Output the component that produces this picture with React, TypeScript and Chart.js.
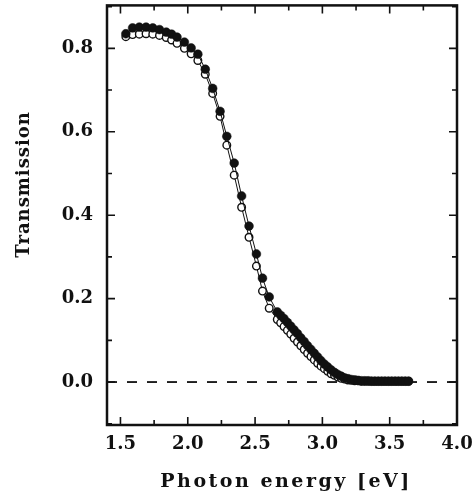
import React, { useEffect, useRef } from "react";
import { Chart, registerables } from "chart.js";

Chart.register(...registerables);

// Photon energy [eV]
const energy = [
  1.54, 1.59, 1.64, 1.69, 1.74, 1.79, 1.84, 1.88, 1.92, 1.975, 2.025, 2.075,
  2.13, 2.185, 2.24, 2.29, 2.345, 2.4, 2.455, 2.51, 2.555, 2.605, 2.665,
  2.69, 2.715, 2.74, 2.765, 2.79, 2.815, 2.84, 2.865, 2.89, 2.915, 2.94, 2.965,
  2.99, 3.015, 3.04, 3.065, 3.09, 3.115, 3.14, 3.165, 3.19, 3.215, 3.24, 3.265,
  3.29, 3.315, 3.34, 3.365, 3.39, 3.415, 3.44, 3.465, 3.49, 3.515, 3.54, 3.565,
  3.59, 3.615, 3.64,
];

// Filled circles
const transmissionFilled = [
  0.835, 0.849, 0.851, 0.851, 0.849, 0.845, 0.839, 0.834, 0.827, 0.815, 0.801, 0.786,
  0.75, 0.704, 0.649, 0.589, 0.525, 0.446, 0.374, 0.307, 0.249, 0.204, 0.168,
  0.16, 0.152, 0.143, 0.134, 0.125, 0.116, 0.106, 0.097, 0.087, 0.078, 0.069, 0.06,
  0.051, 0.043, 0.036, 0.029, 0.023, 0.018, 0.014, 0.01, 0.008, 0.006, 0.005, 0.004,
  0.003, 0.003, 0.003, 0.002, 0.002, 0.002, 0.002, 0.002, 0.002, 0.002, 0.002, 0.002,
  0.002, 0.002, 0.002,
];

// Open circles
const transmissionOpen = [
  0.828, 0.833, 0.834, 0.835, 0.834, 0.831, 0.826, 0.82, 0.812, 0.8, 0.787, 0.771,
  0.738, 0.692, 0.637, 0.568, 0.496, 0.419, 0.347, 0.278, 0.218, 0.177, 0.15,
  0.142, 0.133, 0.124, 0.115, 0.105, 0.096, 0.087, 0.078, 0.069, 0.061, 0.053, 0.045,
  0.038, 0.032, 0.026, 0.02, 0.016, 0.012, 0.009, 0.007, 0.005, 0.004, 0.003, 0.003,
  0.002, 0.002, 0.002, 0.002, 0.002, 0.002, 0.002, 0.002, 0.002, 0.002, 0.002, 0.002,
  0.002, 0.002, 0.002,
];

// Dashed zero line
const baselineX = [1.4, 4.0];
const baselineY = [0, 0];

const xMajorTicks = [1.5, 2.0, 2.5, 3.0, 3.5, 4.0];
const xMinorTicks = [1.75, 2.25, 2.75, 3.25, 3.75];
const yMajorTicks = [0.0, 0.2, 0.4, 0.6, 0.8];
const yMinorTicks = [-0.1, 0.1, 0.3, 0.5, 0.7, 0.9];

const xTitle = "Photon energy [eV]";
const yTitle = "Transmission";

const FONT_FAMILY = "'DejaVu Serif', 'Liberation Serif', serif";
const INK = "#111";

const isIn = (arr: number[], v: number) => arr.some((a) => Math.abs(a - v) < 1e-6);

const framePlugin = {
  id: "frameTicksTitles",
  afterDraw(chart: any) {
    const { ctx, chartArea } = chart;
    const { left, right, top, bottom } = chartArea;
    ctx.save();
    ctx.strokeStyle = INK;
    ctx.lineCap = "butt";
    // inward ticks on all four sides
    ctx.lineWidth = 1.6;
    const xs = chart.scales.x;
    const ys = chart.scales.y;
    xs.ticks.forEach((t: any) => {
      const p = xs.getPixelForValue(t.value);
      if (p < left + 1 || p > right - 1) return;
      const len = isIn(xMajorTicks, t.value) ? 8 : 5;
      ctx.beginPath();
      ctx.moveTo(p, bottom);
      ctx.lineTo(p, bottom - len);
      ctx.moveTo(p, top);
      ctx.lineTo(p, top + len);
      ctx.stroke();
    });
    ys.ticks.forEach((t: any) => {
      const p = ys.getPixelForValue(t.value);
      if (p < top + 1 || p > bottom - 1) return;
      const len = isIn(yMajorTicks, t.value) ? 8 : 5;
      ctx.beginPath();
      ctx.moveTo(left, p);
      ctx.lineTo(left + len, p);
      ctx.moveTo(right, p);
      ctx.lineTo(right - len, p);
      ctx.stroke();
    });
    // frame
    ctx.lineWidth = 2.5;
    ctx.strokeRect(left, top, right - left, bottom - top);
    // axis titles
    ctx.fillStyle = INK;
    ctx.textAlign = "center";
    ctx.textBaseline = "middle";
    ctx.font = `bold 19px ${FONT_FAMILY}`;
    (ctx as any).letterSpacing = "2.5px";
    ctx.fillText(xTitle, (left + right) / 2 + 4, bottom + 57);
    ctx.font = `bold 18px ${FONT_FAMILY}`;
    (ctx as any).letterSpacing = "1px";
    ctx.translate(left - 83, top + 179);
    ctx.rotate(-Math.PI / 2);
    ctx.fillText(yTitle, 0, 0);
    (ctx as any).letterSpacing = "0px";
    ctx.restore();
  },
};

export default function App() {
  const canvasRef = useRef<HTMLCanvasElement | null>(null);

  useEffect(() => {
    if (!canvasRef.current) return;
    const chart = new Chart(canvasRef.current, {
      type: "line",
      data: {
        datasets: [
          {
            label: "filled",
            data: energy.map((e, i) => ({ x: e, y: transmissionFilled[i] })),
            borderColor: INK,
            borderWidth: 1,
            pointRadius: 4.4,
            pointBackgroundColor: INK,
            pointBorderColor: INK,
            pointBorderWidth: 0.5,
            fill: false,
            tension: 0,
          },
          {
            label: "open",
            data: energy.map((e, i) => ({ x: e, y: transmissionOpen[i] })),
            borderColor: INK,
            borderWidth: 1,
            pointRadius: 3.8,
            pointBackgroundColor: "#fff",
            pointBorderColor: INK,
            pointBorderWidth: 1.4,
            fill: false,
            tension: 0,
          },
          {
            label: "zero",
            data: baselineX.map((x, i) => ({ x, y: baselineY[i] })),
            borderColor: INK,
            borderWidth: 1.8,
            borderDash: [10, 10],
            pointRadius: 0,
            fill: false,
          },
        ],
      },
      options: {
        responsive: false,
        animation: false,
        devicePixelRatio: 1,
        layout: { padding: { top: 5, right: 19, left: 0, bottom: 0 } },
        plugins: {
          legend: { display: false },
          tooltip: { enabled: false },
          title: { display: false },
        },
        scales: {
          x: {
            type: "linear",
            min: 1.4,
            max: 4.0,
            afterFit: (s: any) => {
              s.height = 72;
              s.paddingLeft = 0;
              s.paddingRight = 0;
            },
            afterBuildTicks: (s: any) => {
              s.ticks = [...xMajorTicks, ...xMinorTicks]
                .sort((a, b) => a - b)
                .map((v) => ({ value: v }));
            },
            grid: { display: false, drawTicks: false },
            border: { display: false },
            ticks: {
              autoSkip: false,
              maxRotation: 0,
              padding: 9,
              color: INK,
              font: { family: FONT_FAMILY, weight: "bold", size: 18 },
              callback: (v: any) => (isIn(xMajorTicks, Number(v)) ? Number(v).toFixed(1) : ""),
            },
          },
          y: {
            type: "linear",
            min: -0.103,
            max: 0.903,
            afterFit: (s: any) => {
              s.width = 107;
              s.paddingTop = 0;
              s.paddingBottom = 0;
            },
            afterBuildTicks: (s: any) => {
              s.ticks = [...yMajorTicks, ...yMinorTicks]
                .sort((a, b) => a - b)
                .map((v) => ({ value: v }));
            },
            grid: { display: false, drawTicks: false },
            border: { display: false },
            ticks: {
              autoSkip: false,
              padding: 14,
              color: INK,
              font: { family: FONT_FAMILY, weight: "bold", size: 18 },
              callback: (v: any) => (isIn(yMajorTicks, Number(v)) ? Number(v).toFixed(1) : ""),
            },
          },
        },
      },
      plugins: [framePlugin],
    } as any);
    return () => chart.destroy();
  }, []);

  return (
    <div style={{ position: "absolute", left: 0, top: 0, width: 476, height: 497, background: "#fff" }}>
      <canvas ref={canvasRef} width={476} height={497} style={{ display: "block" }} />
    </div>
  );
}
